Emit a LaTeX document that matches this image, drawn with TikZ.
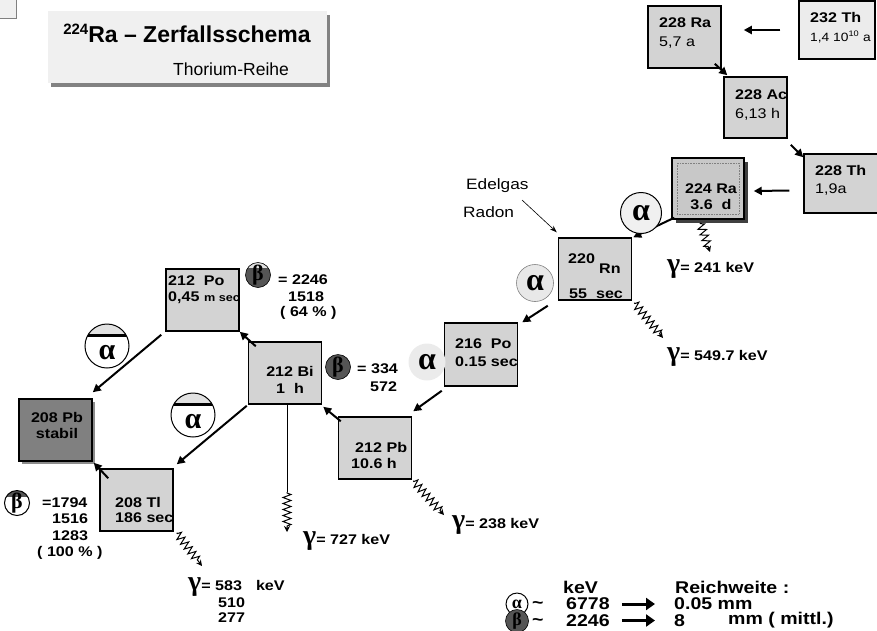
\documentclass[tikz,border=0pt]{standalone}
\usepackage{fontspec}
\setmainfont{Liberation Sans}[FakeStretch=1.15]
\newfontfamily\plainsans{Liberation Sans}
\newfontfamily\grk{Liberation Serif}
\usetikzlibrary{arrows.meta,decorations.pathmorphing,shadows}

\definecolor{boxgray}{RGB}{211,211,211}
\definecolor{titlegray}{RGB}{240,240,240}
\definecolor{thgray}{RGB}{236,236,236}
\definecolor{ragray}{RGB}{200,200,200}
\definecolor{stablegray}{RGB}{128,128,128}
\definecolor{betagray}{RGB}{85,85,85}
\definecolor{capgray}{RGB}{225,225,225}
\definecolor{shadowgray}{RGB}{130,130,130}

\newcommand\fsz[1]{\fontsize{#1}{#1}\selectfont}
\newcommand\gam{{\grk\fsz{28}\bfseries γ}}

\begin{document}
\begin{tikzpicture}[
  x=1pt, y=-1pt,
  nucl/.style={rectangle, draw, line width=1.5pt, fill=boxgray, minimum width=73pt, minimum height=62pt, inner sep=0pt},
  lbl/.style={anchor=west, inner sep=0pt, font=\fsz{14}\bfseries},
  info/.style={anchor=west, inner sep=0pt, font=\fsz{14}},
  glbl/.style={anchor=base west, inner sep=0pt, font=\fsz{14}\bfseries},
  leg/.style={anchor=west, inner sep=0pt, font=\fsz{17}\bfseries},
  decay/.style={line width=2pt, -{Triangle[length=8pt,width=8pt]}},
  legarrow/.style={line width=3pt, -{Triangle[length=9pt,width=12pt]}},
  gamma/.style={line width=1pt, decorate, decoration={zigzag, segment length=6pt, amplitude=4pt, pre length=1pt, post length=5pt}, -{Stealth[length=6pt,width=6pt]}},
  acirc/.style={circle, fill=titlegray, draw, line width=1pt, minimum size=41pt, inner sep=0pt, font=\fsz{32}\grk\bfseries},
  abar/.style={circle, draw, line width=1pt, fill=white, minimum size=44pt, inner sep=0pt,
    path picture={\fill[capgray] (path picture bounding box.north west) rectangle ([yshift=-11.5pt]path picture bounding box.north east);
      \draw[line width=3pt] ([yshift=-11.5pt]path picture bounding box.north west) -- ([yshift=-11.5pt]path picture bounding box.north east);}},
  atxt/.style={inner sep=0pt, font=\fsz{30}\grk\bfseries},
  bcirc/.style={circle, fill=betagray, draw, line width=0.6pt, minimum size=25pt, inner sep=0pt, font=\fsz{22}\grk\bfseries}
]
\useasboundingbox (0,0) rectangle (877,630);

% title
\draw[draw=gray, fill=titlegray] (-2,-2) rectangle (16,18);
\node[rectangle, fill=titlegray, minimum width=279pt, minimum height=72pt,
  drop shadow={shadow xshift=3pt, shadow yshift=-4pt, fill=shadowgray, opacity=1}] (title) at (187.5,47) {};
\node[anchor=base, inner sep=0pt, font=\plainsans\fsz{23}\bfseries] (titletxt) at (187,42) {\raisebox{8pt}{\fsz{15}224}Ra – Zerfallsschema};
\node[anchor=base, inner sep=0pt, font=\plainsans\fsz{17.5}] (subtitle) at (231,75) {Thorium-Reihe};

% nuclides
\draw[line width=2pt] (825,-2) -- (825,2);
\node[nucl, fill=thgray, minimum width=76pt, minimum height=58pt] (th232) at (837,30) {};
\node[nucl] (ra228) at (684.5,37) {};
\node[nucl, minimum width=63pt, minimum height=61pt] (ac228) at (755.5,107.5) {};
\node[nucl, minimum width=76pt, minimum height=59pt] (th228) at (842,183.5) {};
\node[nucl, fill=ragray, minimum width=72pt, minimum height=61pt,
  drop shadow={shadow xshift=4pt, shadow yshift=-4pt, fill=black!75, opacity=1}] (ra224) at (708,188.5) {};
\draw[densely dotted, gray, line width=0.6pt] (677,163) rectangle (739,214);
\node[nucl] (rn220) at (595,269) {};
\node[nucl, minimum height=63pt] (po216) at (481,354.5) {};
\node[nucl] (pb212) at (375,448) {};
\node[nucl] (bi212) at (285,373) {};
\node[nucl] (po212) at (202.5,300) {};
\node[nucl, fill=stablegray,
  drop shadow={shadow xshift=3pt, shadow yshift=-3pt, fill=black!45, opacity=1}] (pb208) at (55.5,430) {};
\node[nucl] (tl208) at (136.5,500) {};

\node[lbl] (th232a) at (810,18) {232 Th};
\node[info, font=\fsz{12}] (th232b) at (810,37) {1,4 10\textsuperscript{10} a};
\node[lbl] (ra228a) at (659,23) {228 Ra};
\node[info] (ra228b) at (659,43) {5,7 a};
\node[lbl] (ac228a) at (735,95) {228 Ac};
\node[info] (ac228b) at (735,114) {6,13 h};
\node[lbl] (th228a) at (815,170) {228 Th};
\node[info] (th228b) at (815,190) {1,9a};
\node[lbl, anchor=center] (ra224a) at (711,189) {224 Ra};
\node[lbl, anchor=center] (ra224b) at (711,204) {3.6~~d};
\node[lbl] (rn220a) at (568,259) {220};
\node[lbl] (rn220b) at (599,269) {Rn};
\node[lbl] (rn220c) at (569,294) {55~~sec};
\node[lbl] (po216a) at (455,344) {216~~Po};
\node[lbl] (po216b) at (455,362) {0.15 sec};
\node[lbl] (pb212a) at (355,447) {212 Pb};
\node[lbl] (pb212b) at (351,463) {10.6 h};
\node[lbl, anchor=center] (bi212a) at (290,371) {212 Bi};
\node[lbl, anchor=center] (bi212b) at (290,388) {1~~h};
\node[lbl] (po212a) at (168,281) {212~~Po};
\begin{scope}
  \clip (po212.north west) rectangle (po212.south east);
  \node[lbl] (po212b) at (168,298) {0,45 {\fsz{11}m sec}};
\end{scope}
\node[lbl, anchor=center] (pb208a) at (57,417) {208 Pb};
\node[lbl, anchor=center] (pb208b) at (57,433) {stabil};
\node[lbl] (tl208a) at (115,502) {208 Tl};
\node[lbl] (tl208b) at (115,518) {186 sec};

% decays
\draw[decay, shorten <=18pt, shorten >=22pt] (th232.west) -- (th232.west -| ra228.east);
\draw[decay] ([shift={(-7,-5)}]ra228.south east) -- ([shift={(4,-1)}]ac228.north west);
\draw[decay] ([shift={(3,6)}]ac228.south east) -- ([shift={(0,4)}]th228.north west);
\draw[decay] ([shift={(-14,7)}]th228.west) -- ([shift={(9,2.5)}]ra224.east);
\draw[decay] ([shift={(3,-2)}]ra224.south west) -- ([shift={(1,0)}]rn220.north east);
\draw[decay] ([shift={(-10,5)}]rn220.south west) -- ([shift={(4,0)}]po216.north east);
\draw[decay] ([shift={(-2,4)}]po216.south west) -- ([shift={(1,-5)}]pb212.north east);
\draw[decay] ([shift={(3,5)}]pb212.north west) -- ([shift={(1,2)}]bi212.south east);
\draw[decay] ([shift={(8,5)}]bi212.north west) -- (po212.south east);
\draw[decay] ([shift={(-4,3)}]po212.south west) -- ([shift={(0,-6)}]pb208.north east);
\draw[decay] ([shift={(-1,1)}]bi212.south west) -- ([shift={(3,-4)}]tl208.north east);
\draw[decay] ([shift={(9,10)}]tl208.north west) -- ([shift={(1,1)}]pb208.south east);

% alpha and beta marks
\node[acirc] (a1) at (641,213) {α};
\node[acirc, fill=black!9, draw=gray, line width=0.6pt, minimum size=37pt] (a2) at (535,283) {α};
\node[acirc, fill=black!8, draw=none, minimum size=37pt] (a3) at (427,362) {α};
\node[abar] (a4) at (107,346) {};
\node[atxt] (a4t) at (107,353) {α};
\node[abar] (a5) at (193,415) {};
\node[atxt] (a5t) at (193,422) {α};

\node[bcirc, path picture={\fill[capgray] (path picture bounding box.north west) rectangle ([yshift=-5pt]path picture bounding box.north east);}] (b1) at (258,275) {β};
\node[bcirc] (b2) at (338,367) {β};
\node[bcirc, fill=white, line width=1pt, path picture={\fill[betagray] (path picture bounding box.north west) rectangle ([yshift=-6pt]path picture bounding box.north east);}] (b3) at (17,503) {β};

\node[lbl] (b1v) at (278,280) {= 2246};
\node[lbl] (b1w) at (288,297) {1518};
\node[lbl] (b1x) at (280,313) {( 64 \% )};
\node[lbl] (b2v) at (357,369) {= 334};
\node[lbl] (b2w) at (370,387) {572};
\node[lbl] (b3v) at (42,503) {=1794};
\node[lbl] (b3w) at (52,519) {1516};
\node[lbl] (b3x) at (52,536) {1283};
\node[lbl] (b3y) at (37,553) {( 100 \% )};

% gamma
\coordinate (g1e) at (710,252);
\coordinate (g2e) at (663,338);
\coordinate (g3e) at (444,515);
\coordinate (g4m) at (287,492);
\coordinate (g4e) at (287,532);
\coordinate (g5e) at (202,566);
\draw[gamma] ([shift={(-8,3)}]ra224.south) -- (g1e);
\draw[gamma] ([shift={(2,2)}]rn220.south east) -- (g2e);
\draw[gamma] ([shift={(1,1)}]pb212.south east) -- (g3e);
\draw[line width=1pt] ([xshift=2pt]bi212.south) -- (g4m);
\draw[gamma] (g4m) -- (g4e);
\draw[gamma] ([shift={(3,1)}]tl208.south east) -- (g5e);

\node[glbl] (g1t) at (667,272) {\gam= 241 keV};
\node[glbl] (g2t) at (667,360) {\gam= 549.7 keV};
\node[glbl] (g3t) at (452,528) {\gam= 238 keV};
\node[glbl] (g4t) at (303,544) {\gam= 727 keV};
\node[glbl] (g5t) at (188,590) {\gam= 583\hspace{14pt}keV};
\node[glbl] (g5u) at (218,607) {510};
\node[glbl] (g5v) at (218,622) {277};

% Edelgas
\node[info, font=\fsz{15}] (edel) at (466,186) {Edelgas};
\node[info, font=\fsz{15}] (radon) at (463,212) {Radon};
\coordinate (edelp) at (522,200);
\draw[line width=0.6pt, -{Stealth[length=7pt,width=5pt]}] (edelp) -- ([shift={(-1,-5)}]rn220.north west);

% legend
\node[leg] (lkev) at (563,587) {keV};
\node[leg] (lreich) at (675,587) {Reichweite :};
\node[circle, draw, line width=1pt, fill=white, minimum size=22pt, inner sep=0pt, font=\fsz{18}\grk\bfseries] (la) at (517,604) {α};
\node[leg] (lat) at (532,605) {\textasciitilde};
\node[leg] (lav) at (566,604) {6778};
\node[leg] (lar) at (674,604) {0.05 mm};
\draw[legarrow, shorten <=12pt, shorten >=19pt] (lav.east) -- (lar.west);
\node[bcirc, minimum size=23pt, font=\fsz{18}\grk\bfseries] (lb) at (517,621) {β};
\node[leg] (lbt) at (532,622) {\textasciitilde};
\node[leg] (lbv) at (566,620.5) {2246};
\node[leg] (lbr) at (674,620.5) {8};
\node[leg] (lbm) at (728,620.5) {mm ( mittl.)};
\draw[legarrow, shorten <=12pt, shorten >=19pt] (lbv.east) -- (lbv.east -| lbr.west);
\end{tikzpicture}
\end{document}
